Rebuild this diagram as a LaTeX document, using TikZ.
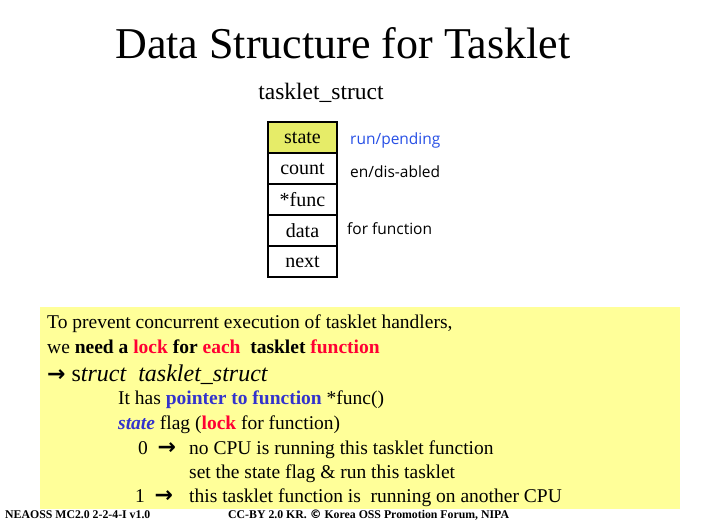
\documentclass[tikz,border=0pt]{standalone}
\usepackage{fontspec}
\setmainfont{Liberation Serif}
\newfontfamily\labfont{Open Sans}
\newfontfamily\symfont{DejaVu Sans}
\definecolor{stateyellow}{RGB}{230,236,104}
\definecolor{noteyellow}{RGB}{255,255,153}
\definecolor{lockred}{RGB}{255,0,51}
\definecolor{ptrblue}{RGB}{51,51,204}
\definecolor{labblue}{RGB}{40,80,230}
\tikzset{
  cell/.style={minimum width=69pt, minimum height=31pt, inner sep=0pt, outer sep=0pt, font=\fontsize{20}{22}\selectfont},
  lab/.style={anchor=west, inner sep=0pt, font=\labfont\fontsize{15.5}{17}\selectfont},
  body/.style={anchor=base west, inner sep=0pt, font=\fontsize{19.5}{22}\selectfont},
  foot/.style={anchor=base west, inner sep=0pt, font=\bfseries\fontsize{11.8}{14}\selectfont},
  grid/.style={draw=black, line width=2pt},
}
\newcommand{\arr}{{\symfont\bfseries\fontsize{22}{22}\selectfont →}}
\newcommand{\celltext}[1]{\raisebox{-2pt}{#1}}
\begin{document}
\begin{tikzpicture}[x=1pt,y=-1pt]
\useasboundingbox (0,0) rectangle (706,522);
\fill[white] (0,0) rectangle (706,522);
\node[inner sep=0pt, font=\fontsize{44}{48}\selectfont] (title) at (343,43) {Data Structure for Tasklet};
\node[inner sep=0pt, font=\fontsize{23.5}{26}\selectfont] (tsname) at (321,93) {tasklet\_struct};
% table
\node[cell, fill=stateyellow, anchor=north west] (state) at (268,122) {\celltext{state}};
\node[cell, anchor=north] (count) at (state.south) {\celltext{count}};
\node[cell, anchor=north] (func) at (count.south) {\celltext{*func}};
\node[cell, anchor=north] (data) at (func.south) {\celltext{data}};
\node[cell, anchor=north] (next) at (data.south) {\celltext{next}};
\draw[grid] (state.north west) rectangle (next.south east);
\draw[grid] (state.south west) -- (state.south east);
\draw[grid] (count.south west) -- (count.south east);
\draw[grid] (func.south west) -- (func.south east);
\draw[grid] (data.south west) -- (data.south east);
\node[lab, text=labblue] (l1) at (350,140) {run/pending};
\node[lab] (l2) at (350,172) {en/dis-abled};
\node[lab] (l3) at (347,229) {for function};
% note
\fill[noteyellow] (40,307) rectangle (680,509);
\node[body] (n1) at (47,328) {To prevent concurrent execution of tasklet handlers,};
\node[body] (n2) at (47,353) {we \textbf{need a} \textbf{\color{lockred}lock} \textbf{for} \textbf{\color{lockred}each}\ \ \textbf{tasklet} \textbf{\color{lockred}function}};
\node[body, font=\fontsize{24}{26}\selectfont] (n3) at (47,381) {\arr\ s\textit{truct\ \ tasklet\_struct}};
\node[body] (n4) at (118,404) {It has \textbf{\color{ptrblue}pointer to function} *func()};
\node[body] (n5) at (118,429) {\textbf{\textit{\color{ptrblue}state}} flag (\textbf{\color{lockred}lock} for function)};
\node[body] (n6a) at (138,454) {0\ \ \arr};
\node[body] (n6) at (189,454) {no CPU is running this tasklet function};
\node[body] (n7) at (189,478) {set the state flag \& run this tasklet};
\node[body] (n8a) at (135,502) {1\ \ \arr};
\node[body] (n8) at (189,502) {this tasklet function is\ \ running on another CPU};
% footer
\node[foot] (f1) at (5,518) {NEAOSS MC2.0 2-2-4-I v1.0};
\node[foot] (f2) at (228,518) {CC-BY 2.0 KR. {\symfont\bfseries ©} Korea OSS Promotion Forum, NIPA};
\end{tikzpicture}
\end{document}
